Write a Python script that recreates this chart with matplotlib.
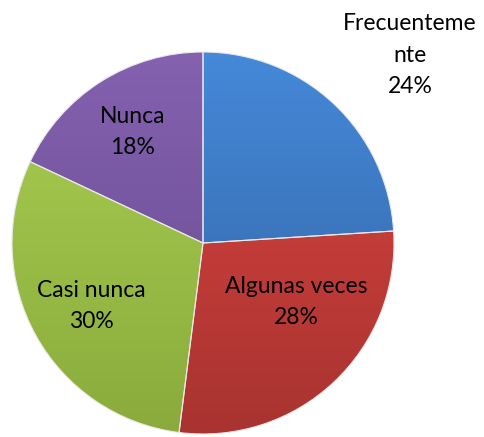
import numpy as np
import matplotlib
matplotlib.use("Agg")
import matplotlib.pyplot as plt
from matplotlib.colors import LinearSegmentedColormap

# data
labels = ["Frecuenteme\nnte\n24%", "Algunas veces\n28%", "Casi nunca\n30%", "Nunca\n18%"]
values = [24, 28, 30, 18]
top_colors = ["#4589d8", "#dc4541", "#aacf52", "#8561b0"]
bottom_colors = ["#3261a3", "#a83330", "#8aab3c", "#634a8c"]

W, H = 485, 437
plt.rcParams['font.family'] = ['Lato', 'DejaVu Sans']
fig = plt.figure(figsize=(W / 100, H / 100), dpi=100)
ax = fig.add_axes([0, 0, 1, 1])

cx, cy, r = 203, H - 243, 191
wedges, _ = ax.pie(values, startangle=90, counterclock=False, center=(cx, cy),
                   radius=r, frame=True,
                   wedgeprops=dict(edgecolor="#e8e8e8", linewidth=0.8))
ax.set_aspect("equal")

grad = np.linspace(0, 1, 256).reshape(-1, 1)
for w, c1, c2 in zip(wedges, top_colors, bottom_colors):
    cmap = LinearSegmentedColormap.from_list("g", [c1, c2])
    w.set_facecolor("none")
    im = ax.imshow(grad, cmap=cmap, aspect="auto", origin="upper",
                   extent=(cx - r, cx + r, cy - r, cy + r), zorder=0.5)
    im.set_clip_path(w)
    w.set_zorder(1)

ax.set_xlim(0, W)
ax.set_ylim(0, H)
ax.axis("off")

# label block centres (pixels from top-left)
label_pos = [(410, 55), (296, 302), (91, 306), (133, 132)]
for lab, (x, y) in zip(labels, label_pos):
    ax.text(x, H - y, lab, ha="center", va="center", fontsize=16.5,
            linespacing=1.62, color="black")

fig.savefig("out.png", dpi=100)
